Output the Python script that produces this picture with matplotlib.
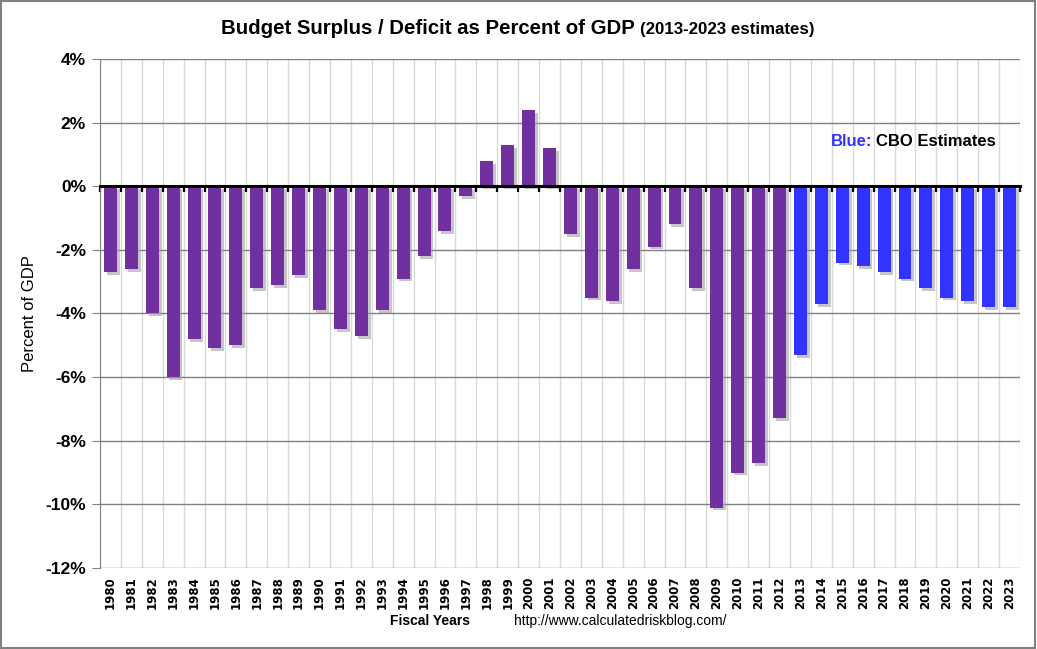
import matplotlib.pyplot as plt
import matplotlib.patheffects as pe
from matplotlib.ticker import FixedLocator, FuncFormatter

years = list(range(1980, 2024))
deficit = [-2.7, -2.6, -4.0, -6.0, -4.8, -5.1, -5.0, -3.2, -3.1, -2.8,
           -3.9, -4.5, -4.7, -3.9, -2.9, -2.2, -1.4, -0.3, 0.8, 1.3,
           2.4, 1.2, -1.5, -3.5, -3.6, -2.6, -1.9, -1.2, -3.2, -10.1,
           -9.0, -8.7, -7.3, -5.3, -3.7, -2.4, -2.5, -2.7, -2.9, -3.2,
           -3.5, -3.6, -3.8, -3.8]
first_estimate = 2013

purple = '#7030A0'
blue = '#3333FF'
colors = [blue if y >= first_estimate else purple for y in years]

plt.rcParams['font.family'] = ['Liberation Sans', 'DejaVu Sans']

fig = plt.figure(figsize=(10.37, 6.49), dpi=100)
ax = fig.add_axes([0.0964, 0.1248, 0.8872, 0.7843])

x = list(range(len(years)))
bars = ax.bar(x, deficit, width=0.62, color=colors, zorder=3)
for b in bars:
    b.set_path_effects([pe.SimplePatchShadow(offset=(2, -2), shadow_rgbFace='#a0a0a0', alpha=0.6),
                        pe.Normal()])

# zero line as a spine with small downward ticks (set first: it resets the ticks)
ax.spines['top'].set_position(('data', 0))
ax.spines['top'].set_linewidth(2.2)
ax.spines['top'].set_color('black')
ax.spines['top'].set_zorder(4)
ax.spines['bottom'].set_visible(False)
ax.spines['right'].set_visible(False)
ax.spines['left'].set_color('#808080')

ax.set_xlim(-0.5, len(years) - 0.5)
ax.set_ylim(-12, 4)
ax.set_yticks(range(-12, 5, 2))
ax.yaxis.set_major_formatter(FuncFormatter(lambda v, p: f'{v:.0f}%'))

ax.set_xticks(x)
ax.set_xticklabels([str(y) for y in years], rotation=90, fontsize=8.5,
                   fontweight='bold', family='DejaVu Sans')
ax.xaxis.set_minor_locator(FixedLocator([i - 0.5 for i in range(len(years) + 1)]))
ax.tick_params(axis='x', which='minor', top=True, bottom=False, direction='in',
               length=4, width=1.6, color='black')
ax.tick_params(axis='x', which='major', length=0, pad=6, bottom=True, top=False,
               labeltop=False, labelbottom=True)
ax.tick_params(axis='y', length=6, color='#808080', labelsize=12.5, pad=4)
for t in ax.get_yticklabels():
    t.set_fontweight('bold')

ax.grid(axis='y', which='major', color='#808080', linewidth=1, zorder=0)
ax.grid(axis='x', which='minor', color='#D9D9D9', linewidth=1, zorder=0)
ax.set_axisbelow(True)

ax.set_ylabel('Percent of GDP', fontsize=12, labelpad=6)

fig.text(0.612, 0.956, 'Budget Surplus / Deficit as Percent of GDP', fontsize=14.7,
         fontweight='bold', ha='right', va='center')
fig.text(0.617, 0.954, '(2013-2023 estimates)', fontsize=12.2, fontweight='bold',
         ha='left', va='center')

ax.text(0.7946, 0.837, 'Blue:', color=blue, fontsize=12, fontweight='bold',
        transform=ax.transAxes, ha='left', va='center')
ax.text(0.843, 0.837, 'CBO Estimates', color='black', fontsize=12, fontweight='bold',
        transform=ax.transAxes, ha='left', va='center')

fig.text(0.415, 0.043, 'Fiscal Years', fontsize=10, fontweight='bold', ha='center', va='center')
fig.text(0.598, 0.043, 'http://www.calculatedriskblog.com/', fontsize=10, ha='center', va='center')

fig.patches.append(plt.Rectangle((0.001, 0.002), 0.997, 0.996, transform=fig.transFigure,
                                 fill=False, edgecolor='#808080', linewidth=1.5))

fig.savefig('out.png', dpi=100)
